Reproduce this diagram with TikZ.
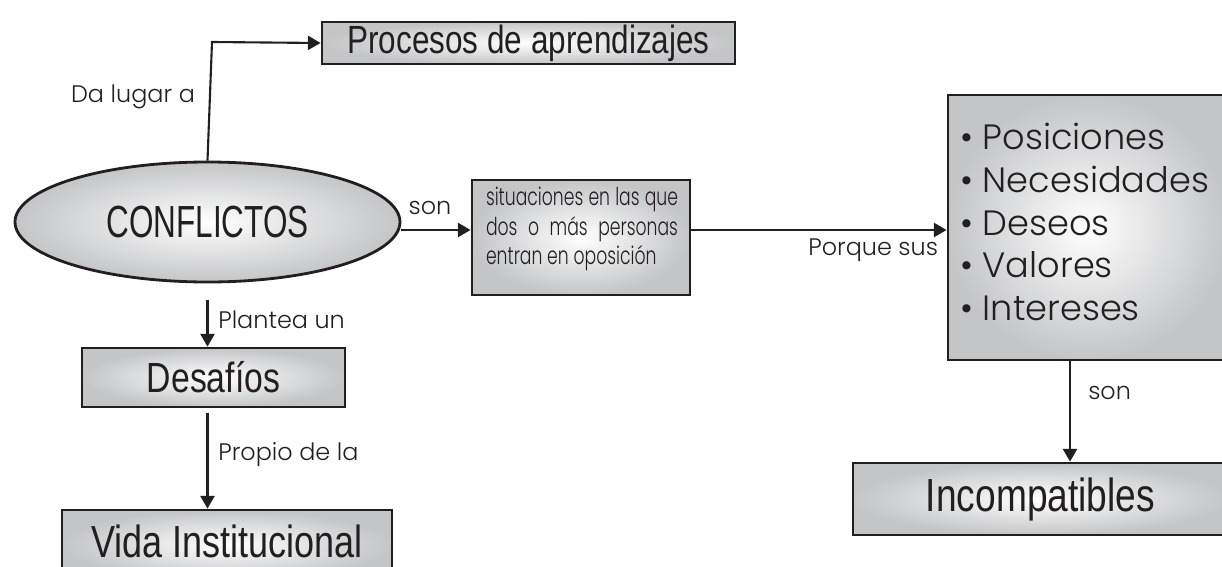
\documentclass[tikz,border=0pt]{standalone}
\usepackage{fontspec}
\usetikzlibrary{arrows.meta,shapes.geometric}
\newfontfamily\narrowfont[FakeStretch=0.80]{Liberation Sans}
\newfontfamily\conffont[FakeStretch=0.70]{Liberation Sans}
\newfontfamily\labelfont{Poppins Light}
\newfontfamily\labelnarrow[FakeStretch=0.70]{Poppins Light}
\definecolor{edgegray}{HTML}{C4C5C7}
\definecolor{linecol}{HTML}{231F20}
\tikzset{
  shadedbox/.style={draw=linecol, line width=2pt, shading=radial, inner color=white, outer color=edgegray},
  conceptbox/.style={shadedbox, rectangle, inner sep=0pt, text=linecol},
  boxtext/.style={font=\narrowfont\fontsize{#1}{#1}\selectfont, text=linecol, inner sep=0pt},
  conn/.style={draw=linecol, line width=1.5pt, -{Triangle[length=9pt,width=10pt]}},
  lbl/.style={font=\labelfont\fontsize{17}{20}\selectfont, text=linecol, inner sep=0pt},
}
\begin{document}
\begin{tikzpicture}[x=0.025cm,y=-0.025cm]
\useasboundingbox (0,0) rectangle (1222,566);
% nodes
\node[conceptbox, boxtext=28, minimum width=413*0.025cm, minimum height=42*0.025cm] (proc) at (528.5,43) {Procesos de aprendizajes};
\node[shadedbox, ellipse, minimum width=385*0.025cm, minimum height=120*0.025cm, inner sep=0pt, font=\conffont\fontsize{32}{36}\selectfont, text=linecol] (conf) at (207.5,222) {CONFLICTOS};
\node[shadedbox, rectangle, minimum width=218*0.025cm, minimum height=115*0.025cm, inner sep=0pt] (sit) at (581,237.5) {};
\node[text width=192*0.025cm, align=justify, inner sep=0pt, font=\labelnarrow\fontsize{17.5}{21}\selectfont, text=linecol] (sitt) at (582,229) {situaciones en las que\linebreak dos o más personas\linebreak entran en oposición};
\node[shadedbox, rectangle, minimum width=280*0.025cm, minimum height=265*0.025cm, inner sep=0pt] (posi) at (1088,227.5) {};
\node[anchor=west, align=left, inner sep=0pt, font=\labelfont\fontsize{25}{30.5}\selectfont, text=linecol] (items) at (960,222) {• Posiciones\\• Necesidades\\• Deseos\\• Valores\\• Intereses};
\node[conceptbox, boxtext=33, minimum width=375*0.025cm, minimum height=72*0.025cm] (inco) at (1040.5,499) {Incompatibles};
\node[conceptbox, boxtext=30, minimum width=263*0.025cm, minimum height=59*0.025cm] (desa) at (213.5,377.5) {Desafíos};
\node[conceptbox, minimum width=330*0.025cm, minimum height=70*0.025cm] (vida) at (227,545) {};
\node[boxtext=32] (vidat) at (227,541) {Vida Institucional};
% connectors
\coordinate (c1) at (212,42);
\draw[conn] (conf.north) -- (c1) -- (proc.west);
\node[lbl] (l1) at (133,97) {Da lugar a};
\draw[conn] (conf.east |- 0,230) -- (sit.west |- 0,230);
\node[lbl] (l2) at (430,208) {son};
\draw[conn] (sit.east |- 0,230) -- (posi.west |- 0,230);
\node[lbl, anchor=west] (l3) at (808,250) {Porque sus};
\draw[conn] (conf.south |- 0,300) -- (desa.north -| conf.south);
\node[lbl, anchor=west] (l4) at (218,320) {Plantea un};
\draw[conn] (desa.south -| conf.south) ++(0,5) -- (vida.north -| conf.south);
\node[lbl, anchor=west] (l5) at (218,455) {Propio de la};
\draw[conn] (posi.south -| 1070,0) -- (inco.north -| 1070,0);
\node[lbl, anchor=west] (l6) at (1088,393) {son};
\end{tikzpicture}
\end{document}
